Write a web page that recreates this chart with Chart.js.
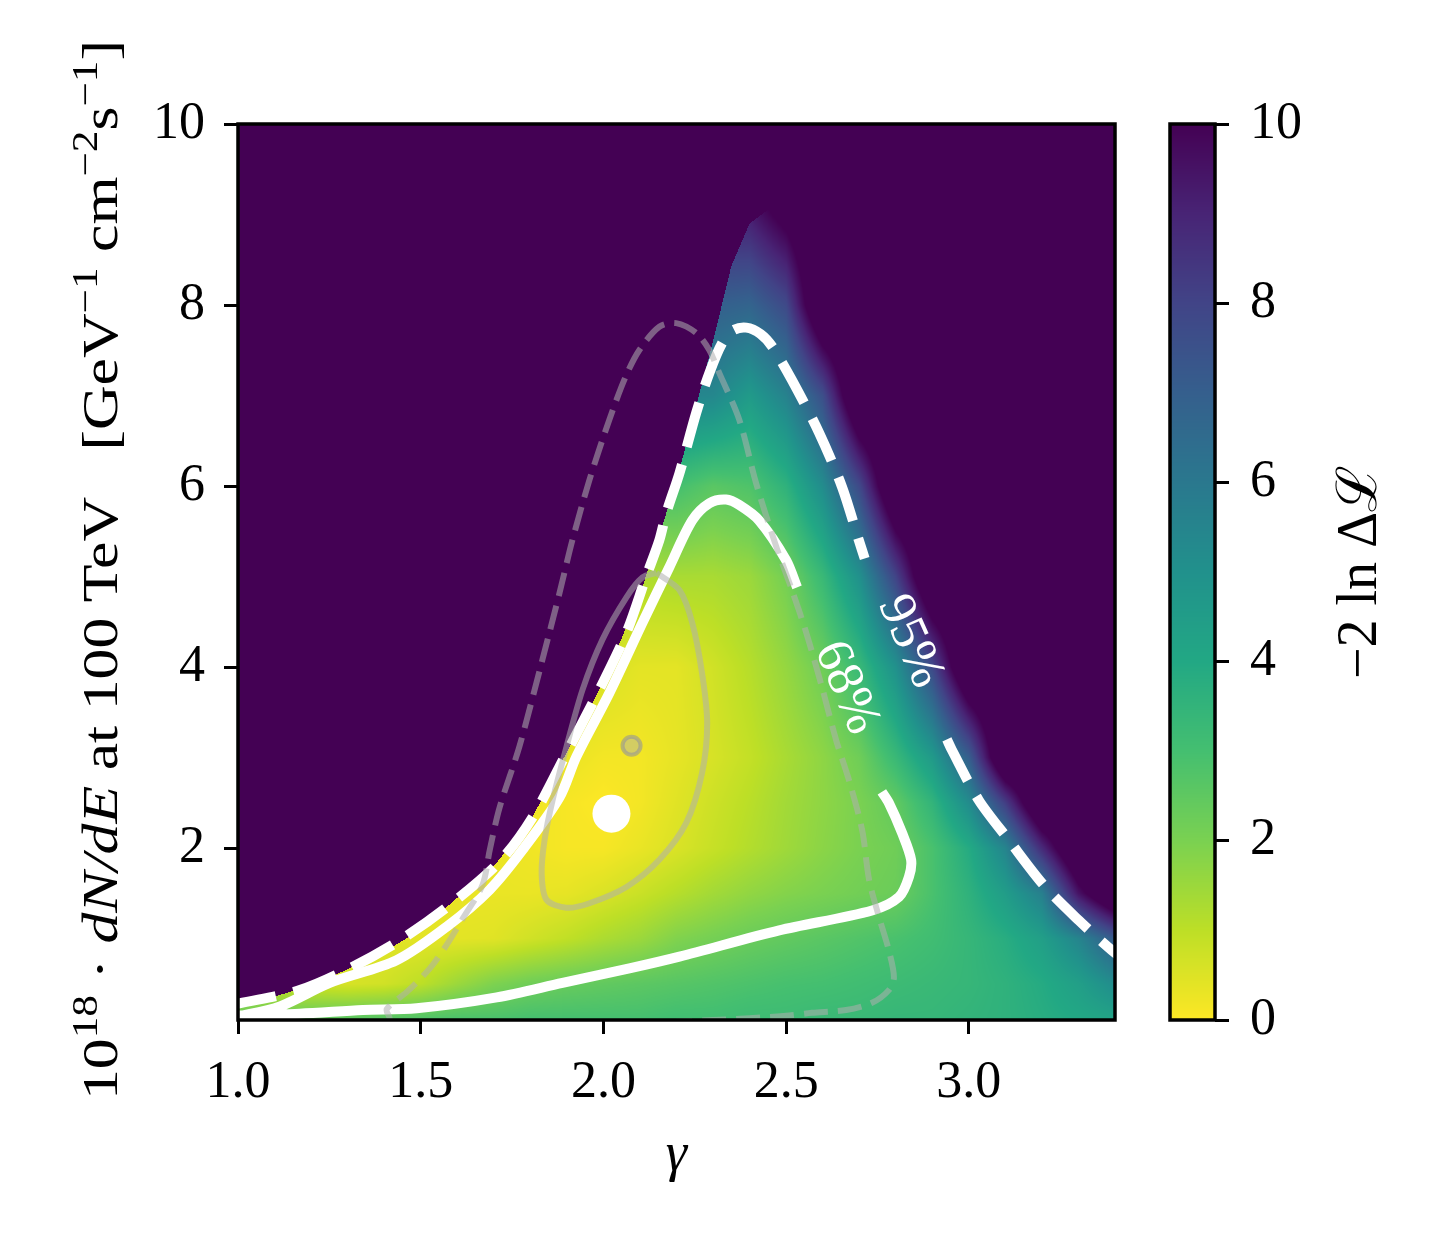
<!DOCTYPE html>
<html>
<head>
<meta charset="utf-8">
<script src="https://cdn.jsdelivr.net/npm/chart.js@4.4.1/dist/chart.umd.min.js"></script>
<style>
  html, body { margin: 0; padding: 0; background: #fff; }
  #wrap { position: relative; width: 1440px; height: 1240px; }
  #main { position: absolute; left: 0; top: 0; }
  #cbar { position: absolute; left: 1150px; top: 0; }
</style>
</head>
<body>
<div id="wrap">
  <canvas id="main" width="1150" height="1240"></canvas>
  <canvas id="cbar" width="290" height="1240"></canvas>
</div>
<script>
// -2 ln dL surface on a coarse grid
const gammaNodes = [1.0, 1.1, 1.2, 1.3, 1.4, 1.5, 1.6, 1.7, 1.8, 1.9, 2.0, 2.1, 2.2, 2.3, 2.4, 2.5, 2.6, 2.7, 2.8, 2.9, 3.0, 3.1, 3.2, 3.3, 3.4];
const fluxNodes = [0.1, 0.5, 1, 1.5, 2, 2.5, 3, 4, 5, 6, 7, 8, 9, 10];
const tsF01 = [2.4, 2.4, 2.5, 2.6, 2.7, 2.8, 2.9, 2.9, 3.0, 3.0, 3.0, 3.0, 3.1, 3.1, 3.2, 3.2, 3.3, 3.3, 3.4, 3.4, 3.5, 3.6, 3.8, 4.0, 4.2];
const tsF05 = [1.2, 0.9, 0.7, 0.6, 0.7, 1.0, 1.5, 1.95, 2.2, 2.35, 2.45, 2.55, 2.65, 2.75, 2.85, 2.95, 3.0, 3.1, 3.2, 3.3, 3.4, 3.6, 3.9, 4.4, 5.2];
const tsF10 = [1.2, 0.9, 0.7, 0.5, 0.4, 0.4, 0.4, 0.45, 0.7, 0.95, 1.25, 1.5, 1.9, 2.1, 2.3, 2.45, 2.6, 2.75, 2.9, 3.1, 3.4, 3.8, 4.4, 5.5, 7.2];
const tsF15 = [1.2, 0.9, 0.7, 0.5, 0.4, 0.35, 0.3, 0.3, 0.3, 0.35, 0.55, 0.8, 1.1, 1.4, 1.65, 1.85, 2.0, 2.15, 2.28, 2.9, 3.6, 4.5, 5.7, 9.5, 12];
const tsF20 = [1.2, 0.9, 0.7, 0.6, 0.5, 0.4, 0.35, 0.3, 0.2, 0.1, 0.1, 0.3, 0.55, 0.85, 1.15, 1.45, 1.75, 2.0, 2.2, 2.9, 3.9, 5.5, 8.8, 12, 12];
const tsF25 = [1.2, 0.9, 0.7, 0.6, 0.5, 0.4, 0.35, 0.3, 0.2, 0.1, 0.0, 0.15, 0.45, 0.75, 1.05, 1.4, 1.7, 2.0, 2.45, 3.5, 5.2, 8.2, 12, 12, 12];
const tsF30 = [1.0, 1.0, 1.0, 1.0, 1.0, 0.8, 0.6, 0.5, 0.4, 0.3, 0.15, 0.15, 0.35, 0.6, 0.9, 1.3, 1.7, 2.2, 3.3, 4.6, 7.0, 12, 12, 12, 12];
const tsF40 = [1.0, 1.0, 1.0, 1.0, 1.0, 1.0, 1.0, 1.0, 1.0, 0.8, 0.6, 0.4, 0.4, 0.7, 1.1, 1.6, 2.2, 3.3, 5.0, 7.8, 12, 12, 12, 12, 12];
const tsF50 = [1.5, 1.5, 1.5, 1.5, 1.5, 1.5, 1.5, 1.5, 1.5, 1.5, 1.3, 1.2, 1.3, 1.3, 1.5, 2.1, 3.3, 5.0, 8.0, 12, 12, 12, 12, 12, 12];
const tsF60 = [3.0, 3.0, 3.0, 3.0, 3.0, 3.0, 3.0, 3.0, 3.0, 3.0, 3.0, 3.0, 3.0, 2.6, 2.8, 3.6, 5.2, 7.8, 12, 12, 12, 12, 12, 12, 12];
const tsF70 = [5.5, 5.5, 5.5, 5.5, 5.5, 5.5, 5.5, 5.5, 5.5, 5.5, 5.5, 5.5, 5.5, 5.4, 4.6, 5.6, 7.6, 12, 12, 12, 12, 12, 12, 12, 12];
const tsF80 = [7.0, 7.0, 7.0, 7.0, 7.0, 7.0, 7.0, 7.0, 7.0, 7.0, 7.0, 7.0, 7.0, 7.0, 6.8, 7.8, 12, 12, 12, 12, 12, 12, 12, 12, 12];
const tsF90 = [9.0, 9.0, 9.0, 9.0, 9.0, 9.0, 9.0, 9.0, 9.0, 9.0, 9.0, 9.0, 9.0, 9.0, 9.2, 10.5, 12, 12, 12, 12, 12, 12, 12, 12, 12];
const tsF100 = [12, 12, 12, 12, 12, 12, 12, 12, 12, 12, 12, 12, 12, 12, 12, 12, 12, 12, 12, 12, 12, 12, 12, 12, 12];
const tsRows = [tsF01, tsF05, tsF10, tsF15, tsF20, tsF25, tsF30, tsF40, tsF50, tsF60, tsF70, tsF80, tsF90, tsF100];

// upper-left edge of the scanned region (empty above it)
const cutGamma = [1.0, 1.1, 1.2, 1.3, 1.4, 1.5, 1.6, 1.7, 1.8, 1.9, 2.0, 2.1, 2.2, 2.3, 2.35, 2.4, 2.45];
const cutFlux = [0.25, 0.36, 0.48, 0.66, 0.85, 1.10, 1.45, 1.80, 2.30, 3.06, 3.84, 4.80, 6.05, 7.60, 8.43, 8.90, 9.05];

// contours of this fit (white)
const c95Gamma = [0.98, 1.000, 1.169, 1.306, 1.443, 1.579, 1.716, 1.806, 1.899, 1.989, 2.063, 2.117, 2.153, 2.172, 2.208, 2.254, 2.290, 2.325, 2.355, 2.391, 2.430, 2.462, 2.516, 2.590, 2.653, 2.699, 2.715, null, 2.940, 2.954, 3.027, 3.109, 3.205, 3.301, 3.391, 3.420];
const c95Flux = [0.26, 0.28, 0.43, 0.67, 0.98, 1.37, 1.85, 2.34, 3.05, 3.75, 4.38, 5.00, 5.40, 5.70, 6.14, 6.81, 7.25, 7.58, 7.72, 7.75, 7.68, 7.54, 7.17, 6.59, 5.99, 5.40, 5.20, null, 3.20, 3.08, 2.53, 2.09, 1.59, 1.20, 0.87, 0.78];
const c68Gamma = [2.530, 2.500, 2.426, 2.372, 2.336, 2.290, 2.243, 2.180, 2.107, 2.016, 1.926, 1.880, 1.779, 1.689, 1.571, 1.434, 1.251, 1.115, 1.000, 0.98, null, 0.98, 1.005, 1.169, 1.342, 1.489, 1.708, 1.888, 2.071, 2.208, 2.481, 2.735, 2.809, 2.836, 2.842, 2.817, 2.781, 2.762];
const c68Flux = [4.88, 5.18, 5.62, 5.79, 5.85, 5.81, 5.62, 5.10, 4.49, 3.71, 3.01, 2.56, 1.98, 1.54, 1.13, 0.76, 0.51, 0.25, 0.14, 0.13, null, 0.13, 0.15, 0.17, 0.21, 0.23, 0.35, 0.51, 0.67, 0.80, 1.09, 1.31, 1.46, 1.68, 1.87, 2.17, 2.50, 2.62];

// contours of the reference fit (grey)
const ref95Gamma = [1.413, 1.415, 1.407, 1.462, 1.525, 1.571, 1.615, 1.669, 1.689, 1.716, 1.770, 1.833, 1.880, 1.915, 1.962, 2.016, 2.060, 2.098, 2.153, 2.199, 2.254, 2.290, 2.317, 2.372, 2.418, 2.473, 2.516, 2.555, 2.598, 2.637, 2.672, 2.708, 2.727, 2.754, 2.781, 2.795, 2.781, 2.735, 2.664, 2.571, 2.508, 2.400, 2.300, 2.200];
const ref95Flux = [0.02, 0.12, 0.22, 0.41, 0.67, 0.93, 1.22, 1.59, 1.98, 2.45, 3.12, 4.08, 4.82, 5.40, 6.07, 6.73, 7.20, 7.50, 7.76, 7.80, 7.69, 7.50, 7.25, 6.73, 6.03, 5.33, 4.85, 4.38, 3.78, 3.19, 2.75, 2.20, 1.65, 1.24, 0.87, 0.57, 0.43, 0.29, 0.21, 0.18, 0.15, 0.12, 0.10, 0.08];
const ref68Gamma = [2.145, 2.208, 2.243, 2.270, 2.284, 2.270, 2.227, 2.153, 2.063, 1.962, 1.899, 1.844, 1.831, 1.839, 1.861, 1.899, 1.943, 1.997, 2.063, 2.107, 2.145];
const ref68Flux = [5.04, 4.85, 4.49, 3.93, 3.38, 2.83, 2.28, 1.87, 1.57, 1.39, 1.34, 1.43, 1.72, 2.09, 2.53, 3.12, 3.75, 4.30, 4.77, 4.99, 5.04];

// best fits
const bestGamma = [2.022];
const bestFlux = [2.38];
const refBestGamma = [2.077];
const refBestFlux = [3.13];

// contour labels
const labelText = ['68%', '95%'];
const labelGamma = [2.664, 2.839];
const labelFlux = [3.77, 4.28];
const labelAngle = [67, 66];

const xTicks = [1.0, 1.5, 2.0, 2.5, 3.0];
const yTicks = [2, 4, 6, 8, 10];
const cbarTicks = [0, 2, 4, 6, 8, 10];

const serif = '"Liberation Serif", "DejaVu Serif", serif';
const tickFont = { family: serif, size: 52 };
const grey = 'rgba(175,175,175,0.55)';

// viridis, 0 -> purple, 1 -> yellow
const viridis = [[68, 1, 84], [72, 36, 117], [65, 68, 135], [53, 95, 141], [42, 120, 142], [33, 145, 140], [34, 168, 132], [68, 191, 112], [122, 209, 81], [189, 223, 38], [253, 231, 37]];

function colorFor(v) {
    const t = 1 - Math.min(Math.max(v, 0), 10) / 10;
    const s = t * 10;
    const k = Math.min(Math.floor(s), 9);
    const r = s - k;
    const a = viridis[k], b = viridis[k + 1];
    return [a[0] + (b[0] - a[0]) * r, a[1] + (b[1] - a[1]) * r, a[2] + (b[2] - a[2]) * r];
}

function locate(arr, v) {
    if (v <= arr[0]) return [0, 0];
    for (let k = 0; k < arr.length - 1; k++) {
        if (v <= arr[k + 1]) return [k, (v - arr[k]) / (arr[k + 1] - arr[k])];
    }
    return [arr.length - 2, 1];
}

function cutAt(g) {
    if (g > cutGamma[cutGamma.length - 1]) return Infinity;
    const [i, u] = locate(cutGamma, g);
    return cutFlux[i] + (cutFlux[i + 1] - cutFlux[i]) * u;
}

const xy = (gs, fs) => gs.map((g, i) => ({ x: g, y: fs[i] }));

// Likelihood map painted under the datasets
const heatmapPlugin = {
    id: 'heatmap',
    beforeDatasetsDraw(chart) {
        const { ctx, chartArea: a, scales: { x, y } } = chart;
        const left = Math.round(a.left), top = Math.round(a.top);
        const w = Math.round(a.right) - left, h = Math.round(a.bottom) - top;
        const off = document.createElement('canvas');
        off.width = w;
        off.height = h;
        const octx = off.getContext('2d');
        const img = octx.createImageData(w, h);
        const cols = [];
        for (let i = 0; i < w; i++) {
            const g = x.getValueForPixel(left + i + 0.5);
            cols.push({ loc: locate(gammaNodes, g), cut: cutAt(g) });
        }
        for (let j = 0; j < h; j++) {
            const f = y.getValueForPixel(top + j + 0.5);
            const [rj, rw] = locate(fluxNodes, f);
            const r0 = tsRows[rj], r1 = tsRows[rj + 1];
            for (let i = 0; i < w; i++) {
                const c = cols[i];
                let v = 10;
                if (f <= c.cut) {
                    const [ci, cu] = c.loc;
                    const a0 = r0[ci] * (1 - cu) + r0[ci + 1] * cu;
                    const a1 = r1[ci] * (1 - cu) + r1[ci + 1] * cu;
                    v = a0 * (1 - rw) + a1 * rw;
                }
                const col = colorFor(v);
                const p = (j * w + i) * 4;
                img.data[p] = col[0];
                img.data[p + 1] = col[1];
                img.data[p + 2] = col[2];
                img.data[p + 3] = 255;
            }
        }
        octx.putImageData(img, 0, 0);
        ctx.drawImage(off, left, top);
    }
};

const contourLabelPlugin = {
    id: 'contourLabels',
    afterDatasetsDraw(chart) {
        const { ctx, scales: { x, y } } = chart;
        ctx.save();
        ctx.fillStyle = '#fff';
        ctx.font = '52px ' + serif;
        ctx.textAlign = 'center';
        ctx.textBaseline = 'middle';
        labelText.forEach((t, i) => {
            ctx.save();
            ctx.translate(x.getPixelForValue(labelGamma[i]), y.getPixelForValue(labelFlux[i]));
            ctx.rotate(labelAngle[i] * Math.PI / 180);
            ctx.fillText(t, 0, 0);
            ctx.restore();
        });
        ctx.restore();
    }
};

const framePlugin = {
    id: 'frame',
    afterDraw(chart) {
        const { ctx, chartArea: a } = chart;
        ctx.save();
        ctx.strokeStyle = '#000';
        ctx.lineWidth = 3.5;
        ctx.strokeRect(a.left, a.top, a.right - a.left, a.bottom - a.top);
        ctx.restore();
    }
};

// y title with superscripts and italics
const yTitleParts = [['10', 'n'], ['18', 'sup'], [' \u00b7 ', 'n'], ['dN/dE', 'it'], [' at 100 TeV   [GeV', 'n'], ['\u22121', 'sup'], [' cm', 'n'], ['\u22122', 'sup'], ['s', 'n'], ['\u22121', 'sup'], [']', 'n']];
const yTitlePlugin = {
    id: 'yTitle',
    afterDraw(chart) {
        const { ctx, chartArea: a } = chart;
        const size = 50;
        const fontOf = k => (k === 'it' ? 'italic ' : '') + (k === 'sup' ? size * 0.7 : size) + 'px ' + serif;
        let total = 0;
        const widths = yTitleParts.map(([t, k]) => {
            ctx.font = fontOf(k);
            const w = ctx.measureText(t).width;
            total += w;
            return w;
        });
        const stretch = Math.min(Math.max(1060 / total, 0.8), 1.3);
        ctx.save();
        ctx.translate(117, (a.top + a.bottom) / 2 - 2);
        ctx.rotate(-Math.PI / 2);
        ctx.scale(stretch, 1);
        ctx.fillStyle = '#000';
        ctx.textAlign = 'left';
        ctx.textBaseline = 'alphabetic';
        let px = -total / 2;
        yTitleParts.forEach(([t, k], i) => {
            ctx.font = fontOf(k);
            ctx.fillText(t, px, k === 'sup' ? -size * 0.4 : 0);
            px += widths[i];
        });
        ctx.restore();
    }
};

new Chart(document.getElementById('main'), {
    type: 'scatter',
    data: {
        datasets: [
            { data: xy(bestGamma, bestFlux), pointRadius: 19, backgroundColor: '#fff', borderWidth: 0, order: 0 },
            { data: xy(refBestGamma, refBestFlux), pointRadius: 9, backgroundColor: 'rgba(175,175,175,0.45)', borderColor: 'rgba(150,150,150,0.6)', borderWidth: 4, order: 0 },
            { data: xy(ref68Gamma, ref68Flux), showLine: true, borderColor: grey, borderWidth: 6, pointRadius: 0, tension: 0.3, order: 1 },
            { data: xy(ref95Gamma, ref95Flux), showLine: true, borderColor: grey, borderWidth: 6, borderDash: [24, 10], pointRadius: 0, tension: 0.3, order: 1 },
            { data: xy(c68Gamma, c68Flux), showLine: true, borderColor: '#fff', borderWidth: 10, pointRadius: 0, tension: 0.3, borderJoinStyle: 'round', order: 2 },
            { data: xy(c95Gamma, c95Flux), showLine: true, borderColor: '#fff', borderWidth: 10, borderDash: [46, 18], pointRadius: 0, tension: 0.3, order: 2 }
        ]
    },
    options: {
        responsive: false,
        animation: false,
        events: [],
        layout: { padding: { left: 0, top: 124, right: 35, bottom: 0 } },
        plugins: { legend: { display: false }, tooltip: { enabled: false } },
        scales: {
            x: {
                type: 'linear', min: 1.0, max: 3.4,
                afterBuildTicks: s => { s.ticks = xTicks.map(v => ({ value: v })); },
                afterFit: s => { s.height = 220; },
                ticks: { callback: v => Number(v).toFixed(1), font: tickFont, color: '#000', padding: 18, maxRotation: 0, autoSkip: false },
                grid: { drawOnChartArea: false, tickLength: 14, tickWidth: 3, color: '#000' },
                border: { display: false },
                title: { display: true, text: '\u03b3', color: '#000', font: { family: serif, size: 54, style: 'italic' }, padding: { top: 0, bottom: 52 } }
            },
            y: {
                type: 'linear', min: 0.1, max: 10,
                afterBuildTicks: s => { s.ticks = yTicks.map(v => ({ value: v })); },
                afterFit: s => { s.width = 238; },
                ticks: { callback: v => String(v), font: tickFont, color: '#000', padding: 19, autoSkip: false },
                grid: { drawOnChartArea: false, tickLength: 14, tickWidth: 3, color: '#000' },
                border: { display: false }
            }
        }
    },
    plugins: [heatmapPlugin, contourLabelPlugin, framePlugin, yTitlePlugin]
});

// Colour bar
const cbarPlugin = {
    id: 'cbar',
    beforeDatasetsDraw(chart) {
        const { ctx, chartArea: a, scales: { y } } = chart;
        for (let py = Math.floor(a.top); py < Math.ceil(a.bottom); py++) {
            const c = colorFor(y.getValueForPixel(py + 0.5));
            ctx.fillStyle = 'rgb(' + c.map(Math.round).join(',') + ')';
            ctx.fillRect(a.left, py, a.right - a.left, 1);
        }
    },
    afterDraw(chart) {
        const { ctx, chartArea: a } = chart;
        ctx.save();
        ctx.strokeStyle = '#000';
        ctx.lineWidth = 3.5;
        ctx.strokeRect(a.left, a.top, a.right - a.left, a.bottom - a.top);
        ctx.translate(226, (a.top + a.bottom) / 2);
        ctx.rotate(-Math.PI / 2);
        ctx.fillStyle = '#000';
        ctx.font = '56px ' + serif;
        ctx.textAlign = 'center';
        ctx.textBaseline = 'alphabetic';
        ctx.fillText('\u22122 ln \u0394\u2112', 0, 0);
        ctx.restore();
    }
};

new Chart(document.getElementById('cbar'), {
    type: 'scatter',
    data: { datasets: [] },
    options: {
        responsive: false,
        animation: false,
        events: [],
        layout: { padding: { left: 20, top: 124, right: 0, bottom: 220 } },
        plugins: { legend: { display: false }, tooltip: { enabled: false } },
        scales: {
            x: { display: false, min: 0, max: 1 },
            y: {
                position: 'right', min: 0, max: 10,
                afterBuildTicks: s => { s.ticks = cbarTicks.map(v => ({ value: v })); },
                afterFit: s => { s.width = 225; },
                ticks: { callback: v => String(v), font: tickFont, color: '#000', padding: 21, autoSkip: false },
                grid: { drawOnChartArea: false, tickLength: 14, tickWidth: 3, color: '#000' },
                border: { display: false }
            }
        }
    },
    plugins: [cbarPlugin]
});
</script>
</body>
</html>
